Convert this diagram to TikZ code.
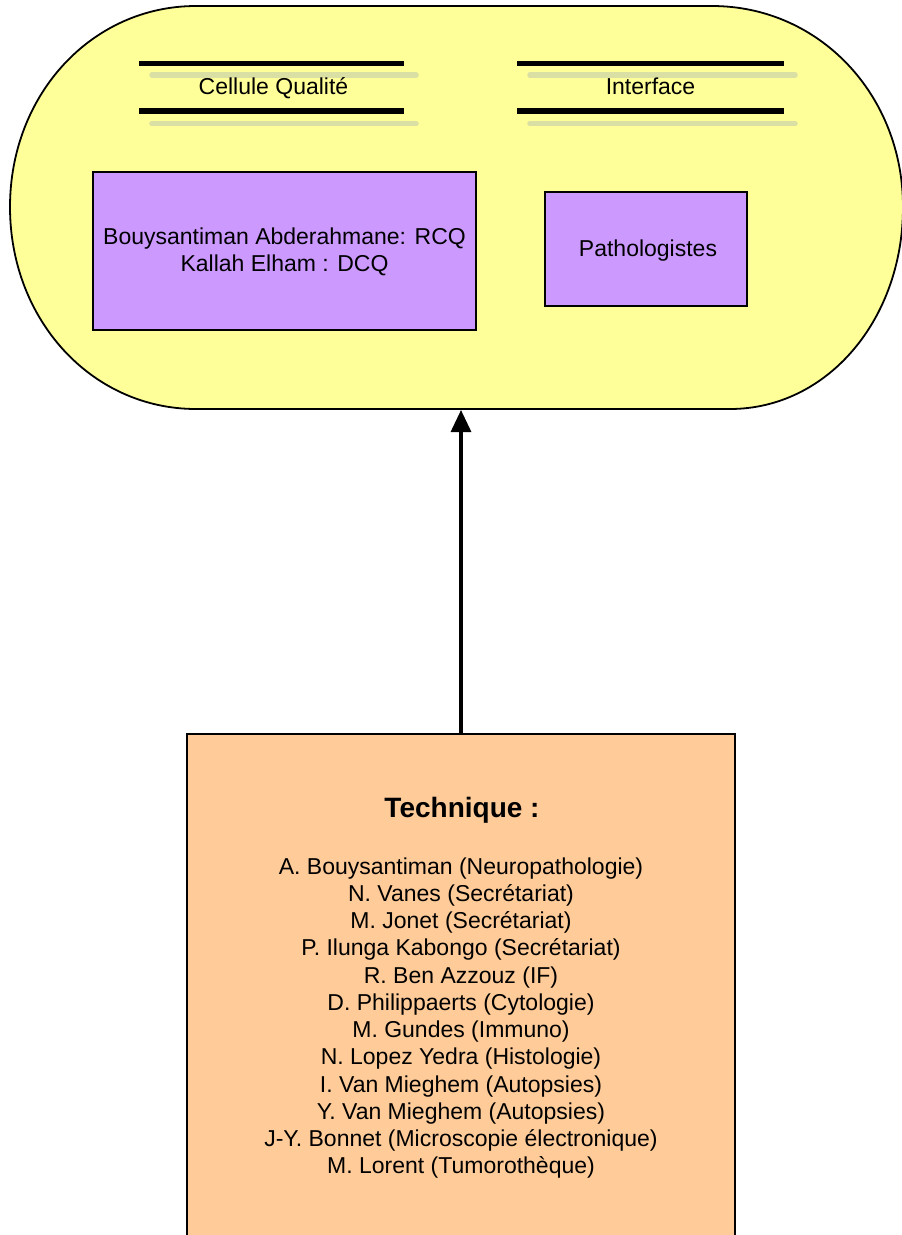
\documentclass[tikz,border=0pt]{standalone}
\usepackage{fontspec}
\setmainfont{Liberation Sans}
\usetikzlibrary{arrows.meta}
\definecolor{shapeyellow}{HTML}{FFFF99}
\definecolor{boxpurple}{HTML}{CC99FF}
\definecolor{boxpeach}{HTML}{FFCC99}
\definecolor{shadowline}{RGB}{218,223,164}
\begin{document}
\begin{tikzpicture}[x=1pt,y=-1pt,
  txt/.style={font=\fontsize{23}{27.3}\selectfont, inner sep=0pt, anchor=base},
  titletxt/.style={font=\fontsize{28}{32}\selectfont\bfseries, inner sep=0pt, anchor=base},
  barline/.style={line width=5.5pt, black},
  shadowbar/.style={line width=5.5pt, shadowline, line cap=round},
  pbox/.style={draw=black, line width=1.6pt, fill=boxpurple, rectangle, inner sep=0pt},
  techbox/.style={draw=black, line width=1.6pt, fill=boxpeach, rectangle, inner sep=0pt},
  connector/.style={line width=3.2pt, -{Triangle[length=22pt,width=20pt]}}
]
\useasboundingbox (0,0) rectangle (902,1235);
\clip (0,0) rectangle (902,1235);
\fill[white] (0,0) rectangle (902,1235);

% rounded container
\draw[line width=1.8pt, fill=shapeyellow]
  (196,6) -- (712,6)
  .. controls (712+0.56*191,6) and (903,207-0.56*201) .. (903,207)
  .. controls (903,207+0.56*202) and (730+0.56*173,409) .. (730,409)
  -- (196,409)
  .. controls (196-0.56*186,409) and (10,207+0.56*202) .. (10,207)
  .. controls (10,207-0.56*201) and (196-0.56*186,6) .. (196,6) -- cycle;
\coordinate (shapebot) at (461,410);

% header bars: Cellule Qualite
\draw[shadowbar] (152,75) -- (416,75);
\draw[shadowbar] (152,123.7) -- (416,123.7);
\draw[barline] (139,63.5) -- (404,63.5);
\draw[barline] (139,111) -- (404,111);
\node[txt] (cq) at (273.5,94) {Cellule Qualité};

% header bars: Interface
\draw[shadowbar] (530,75) -- (795,75);
\draw[shadowbar] (530,123.7) -- (795,123.7);
\draw[barline] (517,63.5) -- (784,63.5);
\draw[barline] (517,111) -- (784,111);
\node[txt] (itf) at (650.5,94) {Interface};

% purple boxes
\node[pbox, minimum width=383pt, minimum height=158pt] (rcq) at (284.5,251) {};
\node[txt] (rcq1) at (284.5,244) {Bouysantiman Abderahmane: RCQ};
\node[txt] (rcq2) at (284.5,271) {Kallah Elham : DCQ};

\node[pbox, minimum width=202pt, minimum height=114pt] (path) at (646,249) {};
\node[txt] (patht) at (648,256) {Pathologistes};

% technique box
\node[techbox, minimum width=548pt, minimum height=600pt, anchor=north] (tech) at (461,733) {};
\node[titletxt] (techt) at (462,817) {Technique :};
\foreach \t [count=\i from 0] in {
  A. Bouysantiman (Neuropathologie),
  N. Vanes (Secrétariat),
  M. Jonet (Secrétariat),
  P. Ilunga Kabongo (Secrétariat),
  R. Ben Azzouz (IF),
  D. Philippaerts (Cytologie),
  M. Gundes (Immuno),
  N. Lopez Yedra (Histologie),
  I. Van Mieghem (Autopsies),
  Y. Van Mieghem (Autopsies),
  J-Y. Bonnet (Microscopie électronique),
  M. Lorent (Tumorothèque)}
  \node[txt] (l\i) at (461,874+27.27*\i) {\t};

% connector
\draw[connector] (tech.north) -- (shapebot);
\end{tikzpicture}
\end{document}
